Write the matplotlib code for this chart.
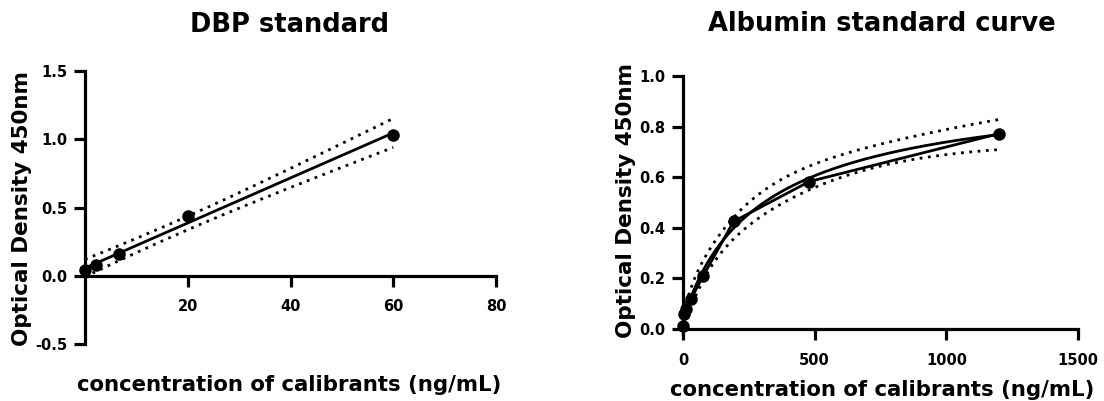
"""Two standard curves: DBP (linear fit) and albumin (saturating fit), GraphPad style."""

import numpy as np
import matplotlib

matplotlib.use("Agg")
import matplotlib.pyplot as plt

# DBP standard, 3-fold dilutions
dbp_conc = [0.0, 2.22, 6.67, 20.0, 60.0]
dbp_od = [0.04, 0.08, 0.16, 0.44, 1.03]

# Albumin standard, 2.5-fold dilutions
alb_conc = [0.0, 4.9, 12.3, 30.7, 76.8, 192.0, 480.0, 1200.0]
alb_od = [0.01, 0.06, 0.08, 0.12, 0.21, 0.425, 0.583, 0.772]

dbp_xticks = [20, 40, 60, 80]
dbp_yticks = [-0.5, 0.0, 0.5, 1.0, 1.5]
alb_xticks = [0, 500, 1000, 1500]
alb_yticks = [0.0, 0.2, 0.4, 0.6, 0.8, 1.0]

W, H = 1104, 401
FONT = "DejaVu Sans"
LW_AX = 2.3
LW = 2.0
DOT = (0, (1, 2))


def px(x, y):
    return x / W, 1 - y / H


def axes_at(fig, left, top, right, bottom):
    return fig.add_axes([left / W, 1 - bottom / H, (right - left) / W, (bottom - top) / H])


def style(ax, xlim, ylim, xticks, yticks, xfmt, yfmt):
    ax.set_xlim(*xlim)
    ax.set_ylim(*ylim)
    for s in ("top", "right"):
        ax.spines[s].set_visible(False)
    ax.spines["bottom"].set_position(("data", 0))
    ax.spines["left"].set_position(("data", 0))
    for s in ("bottom", "left"):
        ax.spines[s].set_linewidth(LW_AX)
        ax.spines[s].set_capstyle("projecting")
    ax.set_xticks(xticks)
    ax.set_xticklabels([xfmt.format(v) for v in xticks])
    ax.set_yticks(yticks)
    ax.set_yticklabels([yfmt.format(v) for v in yticks])
    ax.tick_params(axis="both", width=LW_AX, length=8, direction="out",
                   labelsize=10.5, colors="black")
    ax.tick_params(axis="x", pad=9)
    ax.tick_params(axis="y", pad=5)
    for lab in ax.get_xticklabels() + ax.get_yticklabels():
        lab.set_fontweight("bold")
        lab.set_family(FONT)


def hill(x, p):
    b, t, k, h = p
    xh = np.power(np.maximum(x, 0), h)
    return b + (t - b) * xh / (k ** h + xh)


def fit_hill(x, y):
    best = None
    for k in np.geomspace(50, 5000, 400):
        for h in np.linspace(0.5, 2.5, 201):
            xh = x ** h
            g = xh / (k ** h + xh)
            A = np.column_stack([np.ones_like(g), g])
            c, *_ = np.linalg.lstsq(A, y, rcond=None)
            sse = np.sum((A @ c - y) ** 2)
            if best is None or sse < best[0]:
                best = (sse, np.array([c[0], c[0] + c[1], k, h]))
    return best[1]


def jac(f, x, p):
    J = np.zeros((len(x), len(p)))
    for i in range(len(p)):
        dp = np.zeros(len(p))
        dp[i] = 1e-6 * max(abs(p[i]), 1e-3)
        J[:, i] = (f(x, p + dp) - f(x, p - dp)) / (2 * dp[i])
    return J


fig = plt.figure(figsize=(W / 100, H / 100), dpi=100)

# --- DBP standard -------------------------------------------------------
ax1 = axes_at(fig, 85, 71, 496, 344)
style(ax1, (0, 80), (-0.5, 1.5), dbp_xticks, dbp_yticks, "{:.0f}", "{:.1f}")

x1 = np.array(dbp_conc)
y1 = np.array(dbp_od)
slope, icpt = np.polyfit(x1, y1, 1)
res = y1 - (slope * x1 + icpt)
s = np.sqrt(np.sum(res ** 2) / (len(x1) - 2))
sxx = np.sum((x1 - x1.mean()) ** 2)
xx = np.linspace(x1.min(), x1.max(), 200)
yy = slope * xx + icpt
half = 3.182 * s * np.sqrt(1 / len(x1) + (xx - x1.mean()) ** 2 / sxx)
ax1.plot(xx, yy, color="black", lw=LW, solid_capstyle="butt")
ax1.plot(xx, yy + half, color="black", lw=LW, ls=DOT, dash_capstyle="butt")
ax1.plot(xx, yy - half, color="black", lw=LW, ls=DOT, dash_capstyle="butt")
ax1.plot(x1, y1, "o", color="black", ms=8, clip_on=False, zorder=5)

# --- Albumin standard ---------------------------------------------------
ax2 = axes_at(fig, 683, 76, 1078, 329)
style(ax2, (0, 1500), (0, 1.0), alb_xticks, alb_yticks, "{:.0f}", "{:.1f}")

x2 = np.array(alb_conc)
y2 = np.array(alb_od)
p = fit_hill(x2, y2)
res2 = y2 - hill(x2, p)
s2 = np.sum(res2 ** 2) / (len(x2) - 4)
J = jac(hill, x2, p)
cov = s2 * np.linalg.pinv(J.T @ J)
xx2 = np.linspace(0, x2.max(), 400)
yy2 = hill(xx2, p)
G = jac(hill, xx2, p)
band = 2.776 * np.sqrt(np.einsum("ij,jk,ik->i", G, cov, G))
ax2.plot(xx2, yy2, color="black", lw=LW, clip_on=False)
ax2.plot(xx2, yy2 + band, color="black", lw=LW, ls=DOT, dash_capstyle="butt", clip_on=False)
ax2.plot(xx2, yy2 - band, color="black", lw=LW, ls=DOT, dash_capstyle="butt", clip_on=False)
ax2.plot(x2, y2, "-o", color="black", lw=LW, ms=8, clip_on=False, zorder=5)

# --- text ---------------------------------------------------------------
txt = dict(family=FONT, fontweight="bold", color="black", ha="center", va="center")
fig.text(*px(289, 25), "DBP standard", fontsize=18.5, **txt)
fig.text(*px(882, 24), "Albumin standard curve", fontsize=18.5, **txt)
fig.text(*px(289, 385), "concentration of calibrants (ng/mL)", fontsize=15.3, **txt)
fig.text(*px(882, 390), "concentration of calibrants (ng/mL)", fontsize=15.3, **txt)
fig.text(*px(22, 208), "Optical Density 450nm", fontsize=15.5, rotation=90, **txt)
fig.text(*px(626, 201), "Optical Density 450nm", fontsize=15.5, rotation=90, **txt)

fig.savefig("out.png", dpi=100)
plt.close(fig)
